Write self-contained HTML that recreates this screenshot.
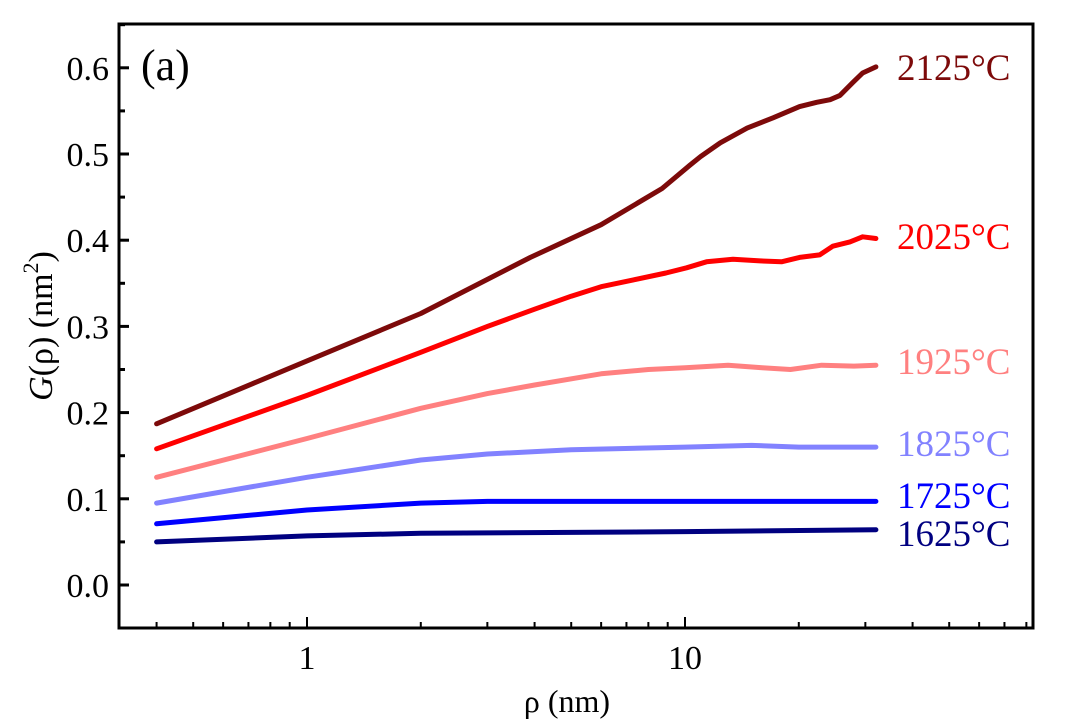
<!DOCTYPE html>
<html><head><meta charset="utf-8"><style>
body{margin:0;background:#fff;}
svg text{font-family:"Liberation Serif",serif;}
</style></head><body>
<svg id="chart" width="1065" height="722" xmlns="http://www.w3.org/2000/svg">
<rect x="119" y="24" width="914" height="604" fill="none" stroke="#000" stroke-width="3"/>
<g id="ticks"></g>
<g id="series"></g>
<text x="141" y="80" font-size="44">(a)</text>
<text x="567" y="712" font-size="32" text-anchor="middle">ρ (nm)</text>
<text transform="translate(52,326) rotate(-90)" font-size="34" text-anchor="middle"><tspan font-style="italic">G</tspan>(ρ) (nm<tspan font-size="22" dy="-14">2</tspan><tspan dy="14">)</tspan></text>
</svg>
<script>
const yTicks=[0.0,0.1,0.2,0.3,0.4,0.5,0.6];
const xMajor=[1,10];
const temps=["2125°C","2025°C","1925°C","1825°C","1725°C","1625°C"];
const colors=["#7d0a0a","#ff0000","#ff8080","#8282ff","#0000ff","#000080"];
const rho2125=[0.4,1,2,3.9,6,7.75,8.7,10.3,11,12.4,14.6,17.1,20.1,22.3,24.2,25.7,27.8,29.5,32];
const g2125=[0.187,0.26,0.315,0.38,0.418,0.447,0.46,0.487,0.497,0.513,0.53,0.542,0.555,0.56,0.563,0.568,0.583,0.594,0.601];
const rho2025=[0.4,1,2,3,4,5,6,7.3,8.9,10.1,11.4,13.4,15.8,18,20.1,22.7,24.6,27.3,29.5,32];
const g2025=[0.158,0.22,0.27,0.30,0.32,0.335,0.346,0.354,0.362,0.368,0.375,0.378,0.376,0.375,0.38,0.383,0.393,0.398,0.404,0.402];
const rho1925=[0.4,1,2,3,4,6,8,10,13,16,19,23,28,32];
const g1925=[0.125,0.17,0.205,0.222,0.232,0.245,0.25,0.252,0.255,0.252,0.25,0.255,0.254,0.255];
const rho1825=[0.4,1,2,3,5,10,15,20,32];
const g1825=[0.095,0.125,0.145,0.152,0.157,0.16,0.162,0.16,0.16];
const rho1725=[0.4,1,2,3,10,32];
const g1725=[0.071,0.087,0.095,0.097,0.097,0.097];
const rho1625=[0.4,1,2,5,10,32];
const g1625=[0.05,0.057,0.06,0.061,0.062,0.064];
const xs=[rho2125,rho2025,rho1925,rho1825,rho1725,rho1625];
const ys=[g2125,g2025,g1925,g1825,g1725,g1625];
const labelY=[67,236,361,443,495,533];

const NS="http://www.w3.org/2000/svg";
const X=v=>307+378*Math.log10(v);
const Y=v=>585-862*v;
const tg=document.getElementById('ticks'), sg=document.getElementById('series');
function mk(tag,attrs,parent){const e=document.createElementNS(NS,tag);for(const k in attrs)e.setAttribute(k,attrs[k]);parent.appendChild(e);return e;}
yTicks.forEach(v=>{
  const l=mk('line',{x1:119,x2:129,y1:Y(v),y2:Y(v),stroke:'#000','stroke-width':3},tg);
  
  
  const m=mk('line',{x1:119,x2:125,y1:Y(v+0.05),y2:Y(v+0.05),stroke:'#000','stroke-width':3},tg);
  
  
  const t=mk('text',{x:109,y:Y(v)+12,'font-size':34,'text-anchor':'end'},tg);
  t.textContent=v.toFixed(1);
  
  
});
for(let d=0.1;d<=10;d*=10){for(let k=1;k<10;k++){const v=+(d*k).toPrecision(3);const x=X(v);if(x<121||x>1031)continue;
  const major=xMajor.includes(v);
  const l=mk('line',{x1:x,x2:x,y1:628,y2:major?617:622,stroke:'#000','stroke-width':2},tg);
  
  }}
xMajor.forEach(v=>{const t=mk('text',{x:X(v),y:669,'font-size':34,'text-anchor':'middle'},tg);
  t.textContent=String(v);
  
  });
temps.forEach((name,i)=>{
  const pts=xs[i].map((r,j)=>X(r).toFixed(1)+','+Y(ys[i][j]).toFixed(1)).join(' ');
  const p=mk('polyline',{points:pts,fill:'none',stroke:colors[i],'stroke-width':5,'stroke-linejoin':'round','stroke-linecap':'round'},sg);
  
  
  const t=mk('text',{x:897,y:labelY[i]+13,'font-size':37,fill:colors[i]},sg);
  t.textContent=name;
  
  
});
</script>
</body></html>
